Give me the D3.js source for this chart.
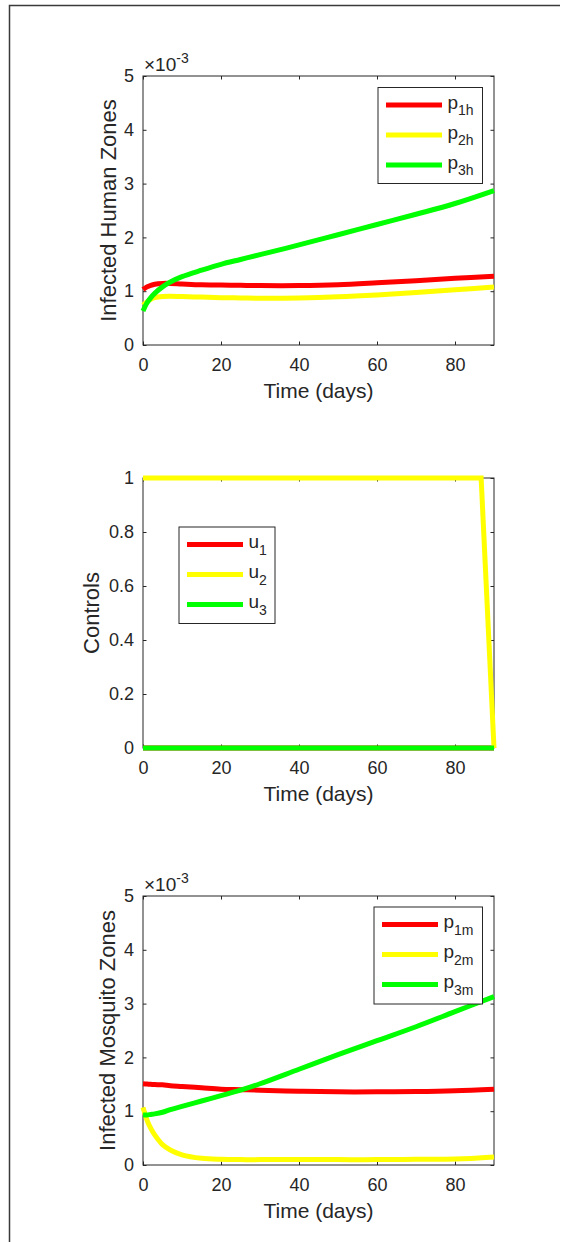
<!DOCTYPE html>
<html>
<head>
<meta charset="utf-8">
<script src="https://cdn.jsdelivr.net/npm/d3@7"></script>
<style>
  body { margin: 0; background: #fff; }
  text { font-family: "Liberation Sans", Arial, Helvetica, sans-serif; fill: #262626; }
</style>
</head>
<body>
<div id="chart"></div>
<script>
// time grid (days) used for the two state plots
var days = [0, 1, 2, 3, 5, 7, 10, 15, 20, 25, 30, 40, 50, 60, 70, 80, 90];

// infected human zones (x 1e-3)
var p1h = [1.03, 1.08, 1.11, 1.13, 1.145, 1.145, 1.135, 1.12, 1.115, 1.11, 1.105, 1.105, 1.12, 1.155, 1.195, 1.24, 1.28];
var p2h = [0.74, 0.80, 0.85, 0.88, 0.90, 0.905, 0.90, 0.89, 0.88, 0.875, 0.87, 0.875, 0.895, 0.93, 0.975, 1.025, 1.08];
var p3h = [0.63, 0.78, 0.88, 0.96, 1.08, 1.17, 1.27, 1.39, 1.50, 1.59, 1.68, 1.86, 2.05, 2.24, 2.43, 2.63, 2.87];

// controls
var u1Days = [0, 90], u1 = [0, 0];
var u2Days = [0, 86.7, 90], u2 = [1, 1, 0];
var u3Days = [0, 90], u3 = [0, 0];

// infected mosquito zones (x 1e-3)
var p1m = [1.51, 1.505, 1.50, 1.495, 1.49, 1.475, 1.46, 1.435, 1.41, 1.40, 1.39, 1.37, 1.36, 1.36, 1.365, 1.38, 1.41];
var p2m = [1.07, 0.84, 0.68, 0.56, 0.38, 0.28, 0.19, 0.125, 0.105, 0.10, 0.10, 0.10, 0.10, 0.10, 0.105, 0.11, 0.15];
var p3m = [0.93, 0.93, 0.94, 0.95, 0.98, 1.03, 1.09, 1.19, 1.29, 1.39, 1.51, 1.78, 2.05, 2.31, 2.57, 2.85, 3.13];

var xTicks = [0, 20, 40, 60, 80];
var yTicksZones = [0, 1, 2, 3, 4, 5];
var yTicksControls = [0, 0.2, 0.4, 0.6, 0.8, 1];

var colors = ["#ff0000", "#ffff00", "#00ff00"];

var W = 569, H = 1242;
var svg = d3.select("#chart").append("svg")
    .attr("width", W)
    .attr("height", H);

svg.append("rect").attr("width", W).attr("height", H).attr("fill", "#fff");

// figure frame (top and left edges)
svg.append("path")
    .attr("d", "M9.5,1242 V5.5 H560")
    .attr("fill", "none")
    .attr("stroke", "#3a3a3a")
    .attr("stroke-width", 1.5);

var left = 143, right = 494;

function zip(t, v) { return t.map(function (d, i) { return [d, v[i]]; }); }

function panel(opt) {
  var g = svg.append("g");
  var x = d3.scaleLinear().domain([0, 90]).range([left, right]);
  var y = d3.scaleLinear().domain(opt.yDomain).range([opt.bottom, opt.top]);

  // box
  g.append("rect")
    .attr("x", left).attr("y", opt.top)
    .attr("width", right - left).attr("height", opt.bottom - opt.top)
    .attr("fill", "none").attr("stroke", "#262626").attr("stroke-width", 1);

  var ax = g.append("g")
    .attr("transform", "translate(0," + opt.bottom + ")")
    .call(d3.axisBottom(x).tickValues(xTicks).tickSizeInner(-3.5).tickSizeOuter(0).tickPadding(13));
  var ay = g.append("g")
    .attr("transform", "translate(" + left + ",0)")
    .call(d3.axisLeft(y).tickValues(opt.yTicks).tickFormat(opt.yFormat).tickSizeInner(-3.5).tickSizeOuter(0).tickPadding(9));
  var at = g.append("g")
    .attr("transform", "translate(0," + opt.top + ")")
    .call(d3.axisTop(x).tickValues(xTicks).tickSizeInner(-3.5).tickSizeOuter(0).tickFormat(""));
  var ar = g.append("g")
    .attr("transform", "translate(" + right + ",0)")
    .call(d3.axisRight(y).tickValues(opt.yTicks).tickSizeInner(-3.5).tickSizeOuter(0).tickFormat(""));

  [ax, ay, at, ar].forEach(function (a) {
    a.select(".domain").remove();
    a.selectAll("line").attr("stroke", "#262626");
    a.selectAll("text").attr("font-size", 18).attr("fill", "#262626")
      .style("font-family", '"Liberation Sans", Arial, Helvetica, sans-serif');
  });

  // axis labels
  g.append("text")
    .attr("x", (left + right) / 2).attr("y", opt.bottom + 53)
    .attr("text-anchor", "middle").attr("font-size", 21)
    .text("Time (days)");
  g.append("text")
    .attr("transform", "translate(" + opt.yLabelX + "," + (opt.top + opt.bottom) / 2 + ") rotate(-90)")
    .attr("text-anchor", "middle").attr("font-size", 22)
    .text(opt.yLabel);

  if (opt.exponent) {
    var ex = g.append("text")
      .attr("x", 144).attr("y", opt.top - 5.5)
      .attr("font-size", 19);
    ex.append("tspan").text("\u00d710");
    ex.append("tspan").attr("dy", -7.5).attr("font-size", 14).text("-3");
  }

  // series
  var line = d3.line()
    .x(function (d) { return x(d[0]); })
    .y(function (d) { return y(d[1]); })
    .curve(opt.curve);

  opt.series.forEach(function (s, i) {
    g.append("path")
      .datum(zip(s.t, s.v))
      .attr("d", line)
      .attr("fill", "none")
      .attr("stroke", colors[i])
      .attr("stroke-width", 5)
      .attr("stroke-linejoin", "miter");
  });

  // legend
  var L = opt.legend;
  var lg = g.append("g");
  lg.append("rect")
    .attr("x", L.x).attr("y", L.y).attr("width", L.w).attr("height", L.h)
    .attr("fill", "#fff").attr("stroke", "#262626").attr("stroke-width", 1);
  opt.series.forEach(function (s, i) {
    var ly = L.y + 17.5 + i * 30;
    lg.append("line")
      .attr("x1", L.x + 8).attr("x2", L.x + 64)
      .attr("y1", ly).attr("y2", ly)
      .attr("stroke", colors[i]).attr("stroke-width", 5);
    var t = lg.append("text")
      .attr("x", L.x + 69.5).attr("y", ly + 3.5)
      .attr("font-size", 19);
    t.append("tspan").text(s.name);
    t.append("tspan").attr("dy", 6.5).attr("font-size", 14).text(s.sub);
  });
}

panel({
  top: 76, bottom: 345, yDomain: [0, 5], yTicks: yTicksZones, yFormat: d3.format("d"),
  yLabel: "Infected Human Zones", yLabelX: 116, exponent: true, curve: d3.curveCatmullRom.alpha(0.5),
  series: [
    { t: days, v: p1h, name: "p", sub: "1h" },
    { t: days, v: p2h, name: "p", sub: "2h" },
    { t: days, v: p3h, name: "p", sub: "3h" }
  ],
  legend: { x: 378, y: 87.5, w: 104.5, h: 96 }
});

panel({
  top: 478, bottom: 748, yDomain: [0, 1], yTicks: yTicksControls,
  yFormat: function (d) { return d === 0 || d === 1 ? String(d) : d3.format(".1f")(d); },
  yLabel: "Controls", yLabelX: 99, exponent: false, curve: d3.curveLinear,
  series: [
    { t: u1Days, v: u1, name: "u", sub: "1" },
    { t: u2Days, v: u2, name: "u", sub: "2" },
    { t: u3Days, v: u3, name: "u", sub: "3" }
  ],
  legend: { x: 179, y: 527, w: 96, h: 96.5 }
});

panel({
  top: 896, bottom: 1165, yDomain: [0, 5], yTicks: yTicksZones, yFormat: d3.format("d"),
  yLabel: "Infected Mosquito Zones", yLabelX: 115, exponent: true, curve: d3.curveCatmullRom.alpha(0.5),
  series: [
    { t: days, v: p1m, name: "p", sub: "1m" },
    { t: days, v: p2m, name: "p", sub: "2m" },
    { t: days, v: p3m, name: "p", sub: "3m" }
  ],
  legend: { x: 374, y: 907, w: 108.5, h: 97 }
});
</script>
</body>
</html>
